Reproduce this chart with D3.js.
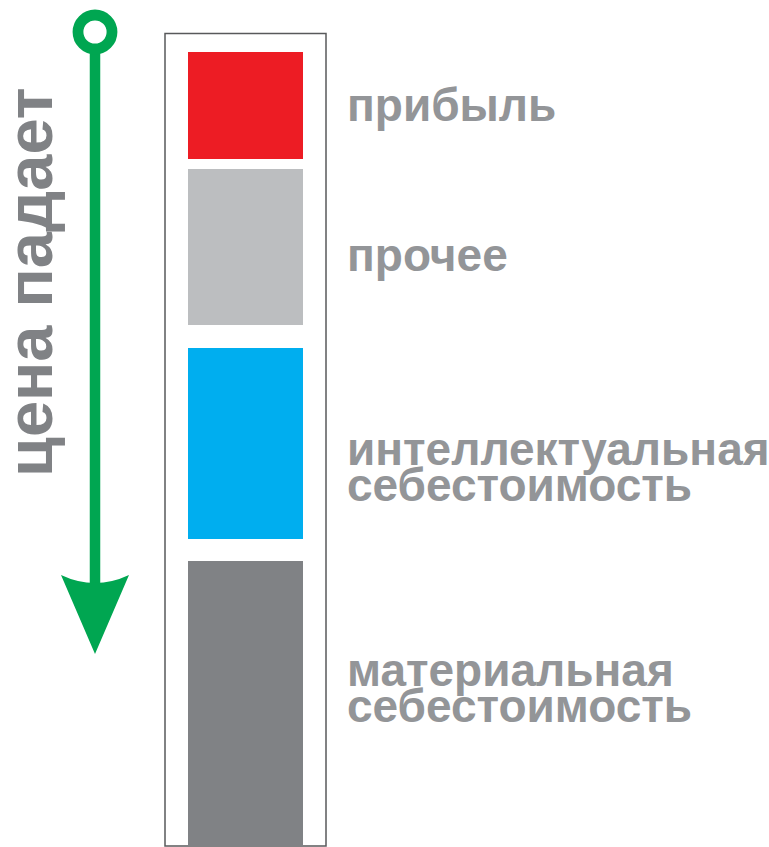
<!DOCTYPE html>
<html>
<meta charset="utf-8">
<title>Структура цены</title>
<style>
    body {
        margin: 0;
        background: #fff;
    }

    .label {
        font-family: "Liberation Sans", Arial, sans-serif;
        font-weight: bold;
        fill: #939598;
    }
</style>
<script src="https://cdn.jsdelivr.net/npm/d3@7"></script>

<head></head>

<body>
<script>
    // price breakdown, top to bottom (bar heights, arbitrary units)
    const categories = ["прибыль", "прочее", "интеллектуальная себестоимость", "материальная себестоимость"]
    const values = [107, 156, 191, 285]
    const labelLines = [["прибыль"], ["прочее"], ["интеллектуальная", "себестоимость"], ["материальная", "себестоимость"]]
    const colors = ["#ed1c24", "#bcbec0", "#00aeef", "#808285"]
    const arrowText = "цена падает"

    // layout only
    const gaps = [10, 23, 22]          // white space after each segment
    const labelDy = [15, 24, 21.5, -18] // first baseline relative to segment middle
    const lineHeight = 36

    const width = 769, height = 847

    let svg = d3.select("body").append("svg")
        .attr("width", width).attr("height", height)

    // stack the segments with their gaps
    let pos = 0
    let segs = values.map((v, i) => {
        let s = { name: categories[i], lines: labelLines[i], y0: pos, y1: pos + v, color: colors[i], dy: labelDy[i] }
        pos += v + (gaps[i] || 0)
        return s
    })

    let y = d3.scaleLinear().domain([0, pos]).range([52, 846])
    let x = d3.scaleBand().domain(["price"]).range([165, 326]).paddingInner(0).paddingOuter(0.2)

    // frame
    svg.append("rect")
        .attr("x", 165).attr("y", 33.5)
        .attr("width", 161).attr("height", 812.5)
        .attr("fill", "none")
        .attr("stroke", "#58595b")
        .attr("stroke-width", 1.5)

    svg.selectAll("rect.seg")
        .data(segs)
        .enter().append("rect")
        .attr("class", "seg")
        .attr("x", x("price"))
        .attr("width", x.bandwidth())
        .attr("y", d => y(d.y0))
        .attr("height", d => y(d.y1) - y(d.y0))
        .attr("fill", d => d.color)

    let labels = svg.selectAll("text.label")
        .data(segs)
        .enter().append("text")
        .attr("class", "label")
        .style("font-size", "46px")
        .attr("x", 347)
        .attr("y", d => (y(d.y0) + y(d.y1)) / 2 + d.dy)

    labels.selectAll("tspan")
        .data(d => d.lines)
        .enter().append("tspan")
        .attr("x", 347)
        .attr("dy", (d, i) => i ? lineHeight : 0)
        .text(d => d)

    // green arrow: ring on top, shaft, concave head
    let green = "#00a651"
    let ax = 95
    svg.append("line")
        .attr("x1", ax).attr("x2", ax)
        .attr("y1", 50).attr("y2", 586)
        .attr("stroke", green)
        .attr("stroke-width", 10.5)
    svg.append("circle")
        .attr("cx", ax).attr("cy", 32)
        .attr("r", 17)
        .attr("fill", "#fff")
        .attr("stroke", green)
        .attr("stroke-width", 10.8)
    svg.append("path")
        .attr("d", `M${ax - 34},575 Q${ax},591 ${ax + 34},575 L${ax},654 Z`)
        .attr("fill", green)

    svg.append("text")
        .attr("class", "label")
        .attr("transform", "translate(52.3,477) rotate(-90)")
        .style("font-size", "65px")
        .style("fill", "#808285")
        .text(arrowText)
</script>
</body>

</html>
